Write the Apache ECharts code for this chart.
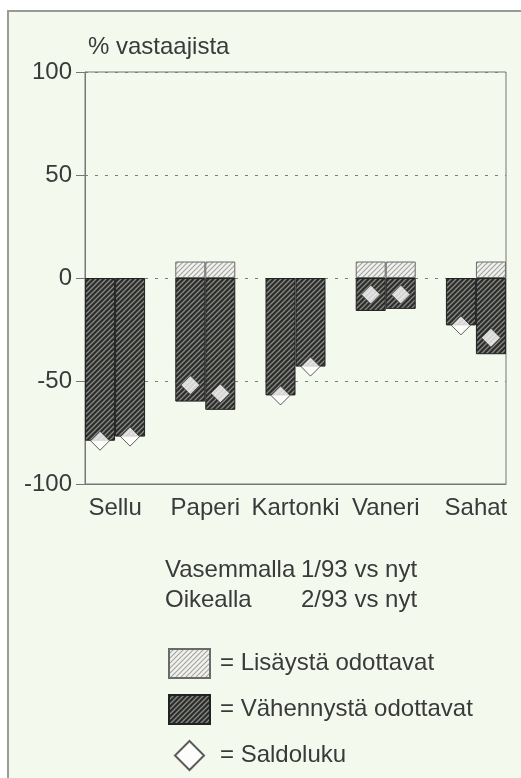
<!DOCTYPE html>
<html>
<head>
<meta charset="utf-8">
<script src="https://cdn.jsdelivr.net/npm/echarts@6/dist/echarts.min.js"></script>
<style>
  html, body { margin: 0; padding: 0; background: #fff; }
  #chart { width: 521px; height: 778px; }
</style>
</head>
<body>
<div id="chart"></div>
<script>
const categories = ['Sellu', 'Paperi', 'Kartonki', 'Vaneri', 'Sahat']
// left bar = 1/93 vs nyt, right bar = 2/93 vs nyt
const incLeft = [null, 8, null, 8, null]
const decLeft = [-79, -60, -57, -16, -23]
const incRight = [null, 8, null, 8, 8]
const decRight = [-77, -64, -43, -15, -37]
const saldoLeft = [-79, -52, -57, -8, -23]
const saldoRight = [-77, -56, -43, -8, -29]
const yTicks = [-100, -50, 0, 50, 100]

const FONT = '"Liberation Sans", Arial, Helvetica, sans-serif'
const TEXT = '#3a3a3a'

// diagonal hatch pattern, "/" direction
const hatch = (bg, fg, n, w) => {
  const c = document.createElement('canvas')
  c.width = n
  c.height = n
  const ctx = c.getContext('2d')
  ctx.fillStyle = bg
  ctx.fillRect(0, 0, n, n)
  ctx.strokeStyle = fg
  ctx.lineWidth = w
  ctx.beginPath()
  ctx.moveTo(0, n); ctx.lineTo(n, 0)
  ctx.moveTo(-n / 2, n / 2); ctx.lineTo(n / 2, -n / 2)
  ctx.moveTo(n / 2, n * 1.5); ctx.lineTo(n * 1.5, n / 2)
  ctx.stroke()
  return c
}

const darkFill = { image: hatch('#2c2d2b', '#878a85', 5, 1.3), repeat: 'repeat' }
const lightFill = { image: hatch('#f1f2ee', '#a3a5a0', 5, 1.2), repeat: 'repeat' }

const pairs = arr => arr.map((v, i) => [i, v == null ? '-' : v])

const barBase = { type: 'bar', barWidth: 30, barGap: '0%' }
const incStyle = { color: lightFill, borderColor: '#6a6a6a', borderWidth: 1 }
const decStyle = { color: darkFill, borderColor: '#222', borderWidth: 1 }
const diamond = {
  type: 'scatter',
  name: 'Saldoluku',
  symbol: 'diamond',
  symbolSize: 19,
  z: 5,
  itemStyle: { color: '#fff', borderColor: '#333', borderWidth: 1 }
}

const chart = echarts.init(document.getElementById('chart'))

chart.setOption({
  animation: false,
  textStyle: { fontFamily: FONT },
  graphic: [
    {
      type: 'rect',
      z: -10,
      silent: true,
      shape: { x: 8, y: 11, width: 530, height: 790 },
      style: { fill: '#f4f9ee', stroke: '#9a9a9a', lineWidth: 2 }
    }
  ],
  title: {
    left: 160,
    top: 550,
    text: '{a|Vasemmalla}{b|1/93 vs nyt}\n{a|Oikealla}{b|2/93 vs nyt}',
    textStyle: {
      fontFamily: FONT,
      fontWeight: 'normal',
      fontSize: 24,
      color: TEXT,
      lineHeight: 30,
      rich: {
        a: { width: 136, fontSize: 24, color: TEXT, fontFamily: FONT, lineHeight: 30 },
        b: { fontSize: 24, color: TEXT, fontFamily: FONT, lineHeight: 30 }
      }
    }
  },
  legend: {
    orient: 'vertical',
    left: 163,
    top: 643,
    itemWidth: 41,
    itemHeight: 29,
    itemGap: 15,
    selectedMode: false,
    symbolKeepAspect: true,
    formatter: name => '= ' + name,
    textStyle: { fontSize: 24, color: TEXT, fontFamily: FONT, padding: [0, 0, 0, 5] },
    data: [
      { name: 'Lisäystä odottavat', icon: 'rect' },
      { name: 'Vähennystä odottavat', icon: 'rect' },
      { name: 'Saldoluku', icon: 'path://M1,0L2,1L1,2L0,1Z' }
    ]
  },
  grid: {
    left: 85,
    right: 15,
    top: 72,
    bottom: 294,
    show: true,
    borderColor: '#777',
    borderWidth: 1,
    backgroundColor: 'transparent'
  },
  xAxis: {
    type: 'value',
    min: -1 / 3,
    max: 13 / 3,
    axisLine: { onZero: false, lineStyle: { color: '#777' } },
    axisTick: { show: false },
    splitLine: { show: false },
    axisLabel: {
      customValues: [0, 1, 2, 3, 4],
      formatter: v => categories[Math.round(v)],
      fontSize: 24,
      color: TEXT,
      fontFamily: FONT,
      margin: 12
    }
  },
  yAxis: {
    type: 'value',
    min: -100,
    max: 100,
    interval: 50,
    name: '% vastaajista',
    nameLocation: 'end',
    nameGap: 25,
    nameTextStyle: {
      align: 'left',
      verticalAlign: 'middle',
      fontSize: 24,
      color: TEXT,
      fontFamily: FONT,
      padding: [0, 0, 0, 3]
    },
    axisLine: { show: true, onZero: false, lineStyle: { color: '#777' } },
    axisTick: { show: true, length: 9, lineStyle: { color: '#777' } },
    axisLabel: {
      fontSize: 24,
      color: TEXT,
      fontFamily: FONT,
      margin: 13,
      formatter: v => (yTicks.includes(v) ? String(v) : '')
    },
    splitLine: {
      show: true,
      lineStyle: { color: '#7d7d7d', type: [3, 7], width: 1 }
    }
  },
  series: [
    { ...barBase, name: 'Lisäystä odottavat', stack: 'left', data: pairs(incLeft), itemStyle: incStyle },
    { ...barBase, name: 'Vähennystä odottavat', stack: 'left', data: pairs(decLeft), itemStyle: decStyle },
    { ...barBase, name: 'Lisäystä odottavat', stack: 'right', data: pairs(incRight), itemStyle: incStyle },
    { ...barBase, name: 'Vähennystä odottavat', stack: 'right', data: pairs(decRight), itemStyle: decStyle },
    { ...diamond, symbolOffset: [-15, 0], data: pairs(saldoLeft) },
    { ...diamond, symbolOffset: [15, 0], data: pairs(saldoRight) }
  ]
})

window.addEventListener('resize', () => chart.resize())
</script>
</body>
</html>
